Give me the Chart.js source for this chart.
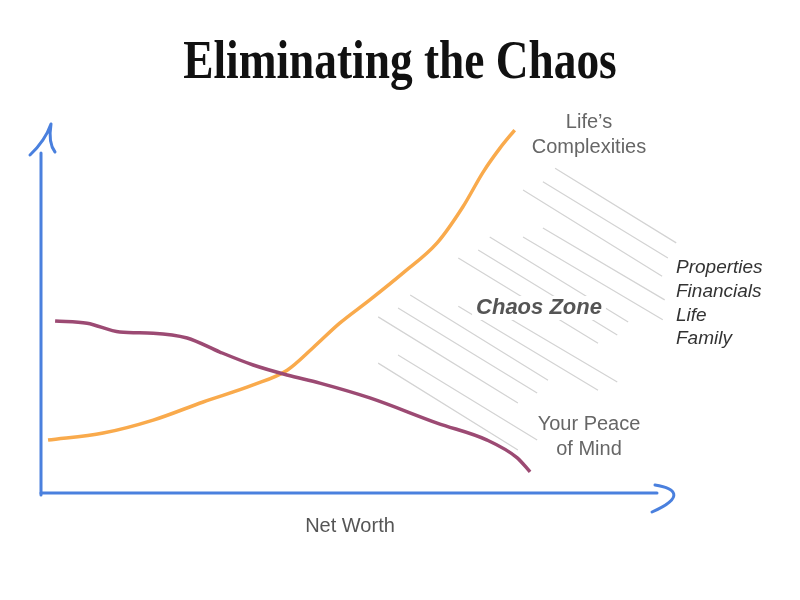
<!DOCTYPE html>
<html>
<head>
<meta charset="utf-8">
<script src="https://cdn.jsdelivr.net/npm/chart.js@4/dist/chart.umd.min.js"></script>
<style>
    html, body { margin: 0; padding: 0; background: #fff; }
    #wrap { width: 800px; height: 600px; }
</style>
</head>
<body>
<div id="wrap"><canvas id="chart" width="800" height="600"></canvas></div>
<script>
// Net worth runs 0..100 along x, "level" 0..100 up the y axis
const complexityX = [1.1, 9.7, 17.5, 25.3, 33.1, 38.4, 42.4, 46.6, 51.3, 56.5, 61.8, 65.8, 69.0, 71.6, 73.9];
const complexityY = [14.3, 16.2, 19.7, 24.6, 29.2, 33.2, 39.2, 45.9, 52.2, 59.5, 67.6, 77.3, 86.8, 93.2, 98.1];

const peaceX = [2.2, 7.2, 12.3, 17.5, 22.8, 27.9, 33.1, 38.4, 43.5, 51.3, 61.8, 69.6, 74.3, 76.3];
const peaceY = [46.5, 45.9, 43.5, 43.2, 41.9, 38.1, 34.6, 31.9, 29.7, 25.7, 18.9, 14.3, 9.5, 5.7];

// hatching of the chaos zone: start and end of each stroke
const hatchStart = [
    [80.2, 87.8], [78.3, 84.1], [75.2, 81.9], [78.3, 71.6], [75.2, 69.2],
    [70.0, 69.2], [68.2, 65.7], [65.1, 63.5], [57.6, 53.5], [55.7, 50.0],
    [52.6, 47.6], [67.7, 52.7], [65.1, 50.5], [55.7, 37.3], [52.6, 35.1]
];
const hatchEnd = [
    [99.1, 67.6], [97.8, 63.5], [96.9, 58.6], [97.3, 52.2], [97.0, 46.8],
    [91.6, 46.2], [89.9, 42.7], [86.9, 40.5], [79.1, 30.5], [77.4, 27.0],
    [74.4, 24.3], [89.9, 30.0], [86.9, 27.8], [77.4, 14.3], [74.4, 11.6]
];

const titleText = 'Eliminating the Chaos';
const complexityLabel = ['Life\u2019s', 'Complexities'];
const peaceLabel = ['Your Peace', 'of Mind'];
const zoneLabel = 'Chaos Zone';
const zoneItems = ['Properties', 'Financials', 'Life', 'Family'];
const xAxisLabel = 'Net Worth';

const AXIS_BLUE = '#4a80de';
const ORANGE = '#f9aa4c';
const PURPLE = '#9c4a73';

const toPoints = (xs, ys) => xs.map((x, i) => ({ x, y: ys[i] }));

// one dataset for all strokes, separated by gaps
const hatchPoints = [];
hatchStart.forEach((s, i) => {
    const e = hatchEnd[i];
    hatchPoints.push({ x: s[0], y: s[1] }, { x: e[0], y: e[1] }, { x: e[0], y: null });
});

/**
 * Hand drawn axes with their arrow heads
 */
const sketchAxes = {
    id: 'sketchAxes',
    beforeDatasetsDraw(chart) {
        const { ctx, chartArea } = chart;
        const l = chartArea.left, b = chartArea.bottom;
        ctx.save();
        ctx.strokeStyle = AXIS_BLUE;
        ctx.lineWidth = 3;
        ctx.lineCap = 'round';
        ctx.lineJoin = 'round';

        // y axis shaft and head
        ctx.beginPath();
        ctx.moveTo(l, b + 2);
        ctx.lineTo(l, 153);
        ctx.stroke();
        ctx.beginPath();
        ctx.moveTo(l - 11, 155);
        ctx.quadraticCurveTo(l + 4, 141, l + 10, 124);
        ctx.quadraticCurveTo(l + 7, 143, l + 14, 152);
        ctx.stroke();

        // x axis shaft and head
        ctx.beginPath();
        ctx.moveTo(l, b);
        ctx.lineTo(657, b);
        ctx.stroke();
        ctx.beginPath();
        ctx.moveTo(655, b - 8);
        ctx.bezierCurveTo(675, b - 5, 686, b + 4, 652, b + 19);
        ctx.stroke();
        ctx.restore();
    }
};

/**
 * Title and annotation texts
 */
const sketchLabels = {
    id: 'sketchLabels',
    afterDatasetsDraw(chart) {
        const { ctx } = chart;
        ctx.save();

        ctx.fillStyle = '#111';
        ctx.font = 'bold 54px "Liberation Serif", serif';
        ctx.textAlign = 'center';
        ctx.textBaseline = 'alphabetic';
        ctx.translate(400, 78);
        ctx.scale(0.84, 1);
        ctx.fillText(titleText, 0, 0);
        ctx.setTransform(1, 0, 0, 1, 0, 0);

        ctx.textBaseline = 'middle';
        ctx.font = '20px "Liberation Sans", Arial, sans-serif';
        ctx.fillStyle = '#666';
        complexityLabel.forEach((t, i) => ctx.fillText(t, 589, 122 + i * 25));
        peaceLabel.forEach((t, i) => ctx.fillText(t, 589, 424 + i * 25));

        ctx.fillStyle = '#555';
        ctx.fillText(xAxisLabel, 350, 526);

        ctx.font = 'italic bold 22px "Liberation Sans", Arial, sans-serif';
        const w = ctx.measureText(zoneLabel).width;
        ctx.fillStyle = '#fff';
        ctx.fillRect(539 - w / 2 - 4, 296, w + 8, 24);
        ctx.fillStyle = '#555';
        ctx.fillText(zoneLabel, 539, 308);

        ctx.font = 'italic 19px "Liberation Sans", Arial, sans-serif';
        ctx.fillStyle = '#333';
        ctx.textAlign = 'left';
        zoneItems.forEach((t, i) => ctx.fillText(t, 676, 268 + i * 23.7));

        ctx.restore();
    }
};

const chart = new Chart(document.getElementById('chart'), {
    type: 'line',
    data: {
        datasets: [
            {
                label: 'Chaos zone',
                data: hatchPoints,
                borderColor: '#d3d3d3',
                borderWidth: 1.2,
                pointRadius: 0,
                tension: 0,
                spanGaps: false,
                clip: false,
                order: 3
            },
            {
                label: 'Life\u2019s Complexities',
                data: toPoints(complexityX, complexityY),
                borderColor: ORANGE,
                borderWidth: 3.5,
                pointRadius: 0,
                cubicInterpolationMode: 'monotone',
                clip: false,
                order: 2
            },
            {
                label: 'Your Peace of Mind',
                data: toPoints(peaceX, peaceY),
                borderColor: PURPLE,
                borderWidth: 3.5,
                pointRadius: 0,
                cubicInterpolationMode: 'monotone',
                clip: false,
                order: 1
            }
        ]
    },
    options: {
        responsive: false,
        animation: false,
        devicePixelRatio: 1,
        layout: { padding: { left: 41, right: 118, top: 123, bottom: 107 } },
        plugins: {
            legend: { display: false },
            title: { display: false },
            tooltip: { enabled: false }
        },
        scales: {
            x: { type: 'linear', min: 0, max: 100, display: false },
            y: { type: 'linear', min: 0, max: 100, display: false }
        }
    },
    plugins: [sketchAxes, sketchLabels]
});
</script>
</body>
</html>
